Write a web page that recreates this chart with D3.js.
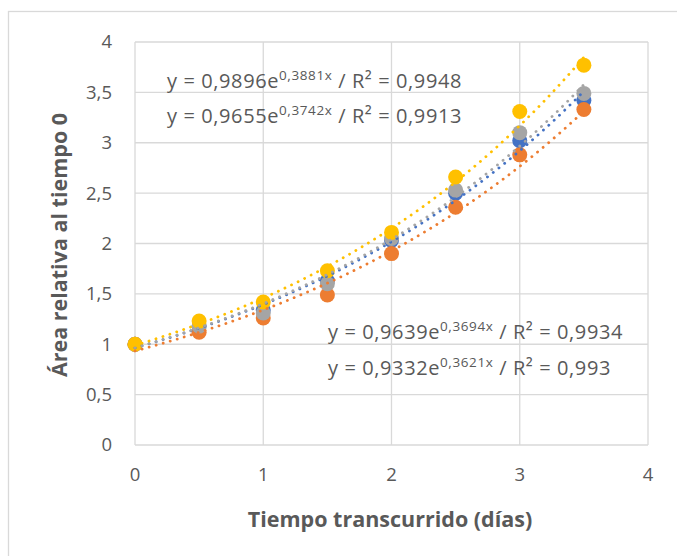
<!DOCTYPE html>
<html>
<head>
<meta charset="utf-8">
<script src="https://cdn.jsdelivr.net/npm/d3@7"></script>
<style>
  body { margin: 0; background: #fff; }
  svg text { font-family: "Open Sans", "Noto Sans", sans-serif; fill: #595959; }
</style>
</head>
<body>
<div id="main"></div>
<script>
// data
let days = [0, 0.5, 1, 1.5, 2, 2.5, 3, 3.5];
let blue = [1, 1.18, 1.34, 1.63, 2.03, 2.50, 3.02, 3.42];
let orange = [1, 1.12, 1.26, 1.49, 1.90, 2.36, 2.88, 3.33];
let gray = [1, 1.18, 1.31, 1.60, 2.05, 2.53, 3.10, 3.49];
let yellow = [1, 1.23, 1.42, 1.73, 2.11, 2.66, 3.31, 3.77];

// exponential trend lines as printed on the chart (a * e^(b x))
let trendA = [0.9639, 0.9332, 0.9655, 0.9896];
let trendB = [0.3694, 0.3621, 0.3742, 0.3881];
let trendR2 = ['0,9934', '0,993', '0,9913', '0,9948'];

let xTicks = [0, 1, 2, 3, 4];
let yTicks = [0, 0.5, 1, 1.5, 2, 2.5, 3, 3.5, 4];

let colors = ['#4472C4', '#ED7D31', '#A5A5A5', '#FFC000'];
let seriesList = [blue, orange, gray, yellow];

let [W, H] = [677, 556];
let plot = {left: 135, right: 648, top: 42, bottom: 445};

let svg = d3.select('#main').append('svg')
  .attr('width', W).attr('height', H);

// outer chart border (runs past the window on right and bottom)
svg.append('rect')
  .attr('x', 8.5).attr('y', 11.5)
  .attr('width', 700).attr('height', 600)
  .attr('fill', 'none').attr('stroke', '#d9d9d9').attr('stroke-width', 1.3);

let x = d3.scaleLinear().domain([0, 4]).range([plot.left, plot.right]);
let y = d3.scaleLinear().domain([0, 4]).range([plot.bottom, plot.top]);

// gridlines
svg.append('g').selectAll('line.h').data(yTicks).join('line')
  .attr('x1', plot.left).attr('x2', plot.right)
  .attr('y1', d=>y(d)).attr('y2', d=>y(d))
  .attr('stroke', '#d9d9d9').attr('stroke-width', 1.3);
svg.append('g').selectAll('line.v').data(xTicks).join('line')
  .attr('y1', plot.top).attr('y2', plot.bottom)
  .attr('x1', d=>x(d)).attr('x2', d=>x(d))
  .attr('stroke', '#d9d9d9').attr('stroke-width', 1.3);

// tick labels
let fmt = d=>String(d).replace('.', ',');
svg.append('g').selectAll('text').data(yTicks).join('text')
  .attr('x', 112).attr('y', d=>y(d)).attr('dy', '0.35em')
  .attr('text-anchor', 'end').style('font-size', '18.5px')
  .text(fmt);
svg.append('g').selectAll('text').data(xTicks).join('text')
  .attr('x', d=>x(d)).attr('y', 475).attr('dy', '0.35em')
  .attr('text-anchor', 'middle').style('font-size', '18.5px')
  .text(fmt);

// axis titles
svg.append('text')
  .attr('x', 390).attr('y', 519).attr('dy', '0.35em')
  .attr('text-anchor', 'middle')
  .style('font-size', '21.5px').style('font-weight', 'bold')
  .text('Tiempo transcurrido (días)');
svg.append('text')
  .attr('transform', 'translate(59,245) rotate(-90)')
  .attr('dy', '0.35em')
  .attr('text-anchor', 'middle')
  .style('font-size', '21.5px').style('font-weight', 'bold')
  .text('Área relativa al tiempo 0');

// markers
seriesList.forEach((vals, i)=>{
  svg.append('g').selectAll('circle').data(days).join('circle')
    .attr('cx', d=>x(d)).attr('cy', (d, j)=>y(vals[j]))
    .attr('r', 7.5).attr('fill', colors[i]);
});

// trend lines (dotted), drawn over markers
let line = d3.line().x(d=>x(d[0])).y(d=>y(d[1]));
seriesList.forEach((vals, i)=>{
  let pts = d3.range(0, 3.5001, 0.05).map(t=>[t, trendA[i] * Math.exp(trendB[i] * t)]);
  svg.append('path')
    .attr('d', line(pts))
    .attr('fill', 'none')
    .attr('stroke', colors[i])
    .attr('stroke-width', 2.8)
    .attr('stroke-linecap', 'round')
    .attr('stroke-dasharray', '0.1,7.2');
});

// equation labels
function eqLabel(i, lx, ly){
  let t = svg.append('text').attr('x', lx).attr('y', ly)
    .style('font-size', '20px').style('letter-spacing', '0.6px');
  let a = trendA[i].toFixed(4).replace('.', ',');
  let b = trendB[i].toFixed(4).replace('.', ',');
  t.append('tspan').text(`y = ${a}e`);
  t.append('tspan').attr('dy', -8).style('font-size', '13.5px').text(`${b}x`);
  t.append('tspan').attr('dy', 8).text(` / R² = ${trendR2[i]}`);
}
eqLabel(3, 167, 88);
eqLabel(2, 167, 123);
eqLabel(0, 328, 339);
eqLabel(1, 328, 375);
</script>
</body>
</html>
